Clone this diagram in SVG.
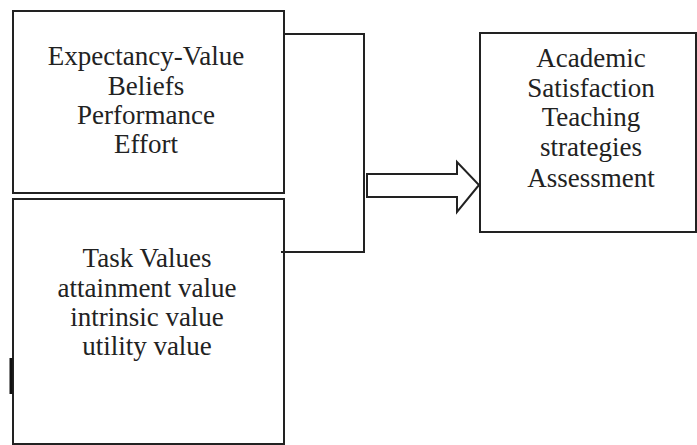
<svg xmlns="http://www.w3.org/2000/svg" width="697" height="445" viewBox="0 0 697 445">
<style>
.box{fill:#fff;stroke:#222;stroke-width:2}
.ln{fill:none;stroke:#222;stroke-width:2}
.t{font-family:'Liberation Serif','Times New Roman',Times,serif;font-size:27px;fill:#222;text-anchor:middle}
</style>
<rect width="697" height="445" fill="#fff"/>
<g id="node-expectancy">
<rect class="box" x="13" y="11" width="271" height="182"/>
<text class="t" x="146" y="65">Expectancy-Value</text>
<text class="t" x="146" y="95">Beliefs</text>
<text class="t" x="146" y="124">Performance</text>
<text class="t" x="146" y="153">Effort</text>
</g>
<g id="node-task">
<rect class="box" x="13" y="199" width="271" height="245"/>
<rect x="9.5" y="358" width="3" height="36" fill="#111"/>
<text class="t" x="147" y="267">Task Values</text>
<text class="t" x="147" y="297">attainment value</text>
<text class="t" x="147" y="326">intrinsic value</text>
<text class="t" x="147" y="355">utility value</text>
</g>
<g id="node-outcome">
<rect class="box" x="480" y="33" width="216" height="199"/>
<text class="t" x="591" y="67">Academic</text>
<text class="t" x="591" y="97">Satisfaction</text>
<text class="t" x="591" y="126">Teaching</text>
<text class="t" x="591" y="156">strategies</text>
<text class="t" x="591" y="187">Assessment</text>
</g>
<g id="connectors">
<polyline class="ln" points="284,34 364,34 364,252 281,252"/>
<polygon class="ln" points="367,174 457,174 457,162 479,185 457,212 457,197 367,197"/>
</g>
</svg>
